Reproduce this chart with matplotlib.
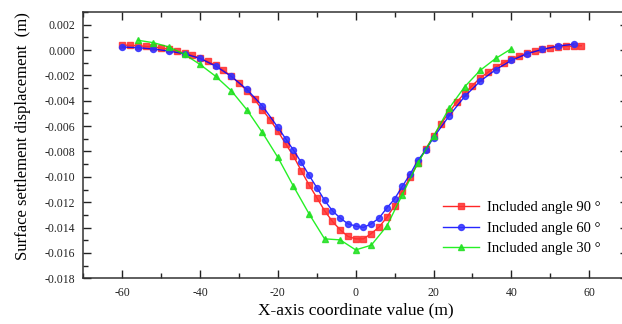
import matplotlib
matplotlib.use("Agg")
import matplotlib.pyplot as plt
from matplotlib.ticker import MultipleLocator, FormatStrFormatter

# ---- data ----
x90 = [-60, -58, -56, -54, -52, -50, -48, -46, -44, -42, -40, -38, -36, -34, -32, -30,
       -28, -26, -24, -22, -20, -18, -16, -14, -12, -10, -8, -6, -4, -2, 0, 2, 4, 6, 8,
       10, 12, 14, 16, 18, 20, 22, 24, 26, 28, 30, 32, 34, 36, 38, 40, 42, 44, 46, 48,
       50, 52, 54, 56, 58]
y90 = [0.00040, 0.00037, 0.00034, 0.00029, 0.00024, 0.00016, 0.00005, -0.00008,
       -0.00024, -0.00042, -0.00066, -0.00090, -0.00120, -0.00160, -0.00207, -0.00260,
       -0.00320, -0.00390, -0.00470, -0.00550, -0.00640, -0.00740, -0.00836, -0.00952,
       -0.01063, -0.01164, -0.01267, -0.01351, -0.01417, -0.01470, -0.01489, -0.01489,
       -0.01447, -0.01396, -0.01320, -0.01227, -0.01111, -0.01005, -0.00889, -0.00780,
       -0.00680, -0.00580, -0.00490, -0.00410, -0.00340, -0.00280, -0.00220, -0.00175,
       -0.00135, -0.00100, -0.00070, -0.00045, -0.00025, -0.00008, 0.00005, 0.00015,
       0.00022, 0.00028, 0.00032, 0.00034]

x60 = [-60, -56, -52, -48, -44, -40, -36, -32, -28, -24, -20, -18, -16, -14, -12, -10,
       -8, -6, -4, -2, 0, 2, 4, 6, 8, 10, 12, 14, 16, 18, 20, 24, 28, 32, 36, 40, 44,
       48, 52, 56]
y60 = [0.00024, 0.00019, 0.00008, -0.00008, -0.00030, -0.00066, -0.00127, -0.00207,
       -0.00310, -0.00440, -0.00610, -0.00700, -0.00789, -0.00886, -0.00987, -0.01085,
       -0.01185, -0.01267, -0.01325, -0.01370, -0.01388, -0.01399, -0.01370, -0.01325,
       -0.01246, -0.01174, -0.01074, -0.00979, -0.00868, -0.00790, -0.00690, -0.00520,
       -0.00366, -0.00246, -0.00154, -0.00082, -0.00030, 0.00005, 0.00032, 0.00045]

x30 = [-56, -52, -48, -44, -40, -36, -32, -28, -24, -20, -16, -12, -8, -4, 0, 4, 8,
       12, 16, 20, 24, 28, 32, 36, 40]
y30 = [0.00077, 0.00058, 0.00024, -0.00034, -0.00114, -0.00207, -0.00320, -0.00470,
       -0.00650, -0.00847, -0.01074, -0.01291, -0.01489, -0.01497, -0.01576, -0.01539,
       -0.01388, -0.01140, -0.00890, -0.00680, -0.00460, -0.00290, -0.00160, -0.00066,
       0.00010]

labels = ["Included angle 90 °", "Included angle 60 °", "Included angle 30 °"]
xlabel = "X-axis coordinate value (m)"
ylabel = "Surface settlement displacement  (m)"
xticks = [-60, -40, -20, 0, 20, 40, 60]
yticks = [0.002, 0.000, -0.002, -0.004, -0.006, -0.008, -0.010, -0.012,
          -0.014, -0.016, -0.018]

# ---- style ----
plt.rcParams['font.family'] = ['Liberation Serif', 'DejaVu Serif']
plt.rcParams['axes.unicode_minus'] = False

fig = plt.figure(figsize=(6.22, 3.24), dpi=100)
W, H = 622, 324
left, right, top, bottom = 83.4, 628, 12, 278.3
ax = fig.add_axes([left / W, 1 - bottom / H, (right - left) / W, (bottom - top) / H])

ax.plot(x90, y90, color='#FF0000', lw=1.0, marker='s', ms=4, mec='#FF3030', mfc='#FF3030',
        label=labels[0], alpha=0.85)
ax.plot(x60, y60, color='#0000FF', lw=1.0, marker='o', ms=4.3, mec='#3030FF', mfc='#3030FF',
        label=labels[1], alpha=0.85)
ax.plot(x30, y30, color='#00EE00', lw=1.0, marker='^', ms=4.5, mec='#20E020', mfc='#20E020',
        label=labels[2], alpha=0.85)

ax.set_xlim(-70, 70)
ax.set_ylim(-0.018, 0.003)
ax.xaxis.set_minor_locator(MultipleLocator(10))
ax.yaxis.set_minor_locator(MultipleLocator(0.001))
ax.yaxis.set_major_formatter(FormatStrFormatter('%.3f'))
ax.set_xticks(xticks)
ax.set_yticks(yticks)

ax.tick_params(which='both', direction='in', top=True, right=True, labelsize=8.5,
               width=1.0, colors='#222222')
ax.tick_params(which='major', length=5.5, pad=6)
ax.tick_params(which='minor', length=3.5)
for sp in ax.spines.values():
    sp.set_linewidth(1.1)
    sp.set_color('#333333')

ax.set_xlabel(xlabel, fontsize=12.5, labelpad=3)
ax.set_ylabel(ylabel, fontsize=12)
ax.yaxis.set_label_coords(-0.097, 0.535)

ax.legend(loc='center left', bbox_to_anchor=(0.66, 0.188), frameon=False,
          fontsize=10.5, borderaxespad=0, borderpad=0, handlelength=2.5,
          handletextpad=0.5, labelspacing=0.5, numpoints=1)

fig.savefig('out.png', dpi=100)
